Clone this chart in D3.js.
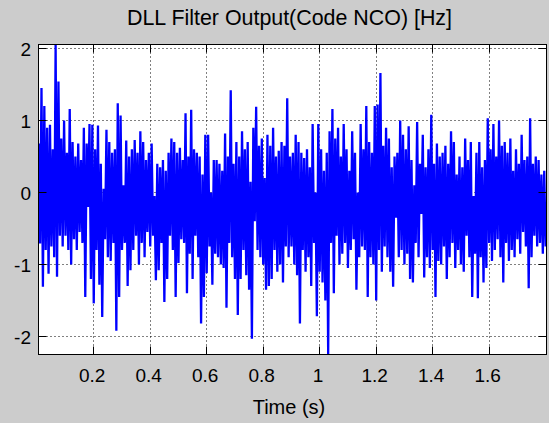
<!DOCTYPE html>
<html>
<head>
<meta charset="utf-8">
<script src="https://cdn.jsdelivr.net/npm/d3@7"></script>
<style>
  body { margin: 0; background: #cccccc; }
  svg text { font-family: "Liberation Sans", Arial, sans-serif; fill: #000; }
</style>
</head>
<body>
<div id="chart"></div>
<script>
// the trace is far denser than the screen, so it is kept as one
// max / min pair per 0.01 s slice
var t0 = 0.007, dt = 0.01;

var hi = [
  0.68, 1.45, 1.2, 0.9, 0.94, 0.6, 2.05, 1.54, 0.75, 1.0,
  0.55, 1.16, 0.7, 0.5, 0.68, 0.45, 0.9, 0.68, 0.95, 0.94,
  0.6, 0.93, 0.4, 0.05, 0.87, 0.7, 0.55, 0.6, 1.24, 1.07,
  0.1, 0.72, 0.5, 0.6, 0.73, 0.55, 0.85, 0.7, 0.45, 0.55,
  0.68, -0.05, 0.4, 0.35, 0.45, 0.3, 0.55, 0.75, 0.7, 0.55,
  0.62, 0.45, 1.1, 0.5, 1.15, 0.6, 0.55, 0.5, 0.25, 0.8,
  0.8, 0.0, 0.45, 0.45, 0.4, 0.3, 0.82, 0.5, 1.42, 0.4,
  0.7, 0.5, 0.85, 0.6, 0.7, 0.15, 0.9, 1.19, 0.65, 0.75,
  0.2, 0.8, 0.65, 0.9, 0.5, 0.58, 0.7, 0.65, 1.31, 0.5,
  0.55, 0.8, 0.7, 0.55, 0.48, 0.6, 0.35, 0.95, 0.0, 0.95,
  0.6, 0.3, 0.55, 0.85, 1.16, 0.75, 0.9, 0.5, 0.95, 0.6,
  0.3, 0.85, 0.55, 0.0, 0.95, 0.6, 1.2, 0.7, 0.55, 1.2,
  1.22, 1.66, 0.65, 0.9, 0.75, 0.35, 0.5, 0.55, 1.0, 0.8,
  0.6, 0.92, 0.45, 0.1, 0.98, 0.4, 0.8, 0.35, 0.6, 1.08,
  0.4, 0.68, 0.5, 0.55, 0.65, 0.4, 0.85, 0.7, 0.25, 0.5,
  0.35, 0.75, 0.45, 0.7, -0.05, 0.55, 0.7, 0.35, 0.45, 1.03,
  0.6, 0.95, 0.5, 1.0, 0.65, 0.7, 0.55, 0.75, 0.3, 0.6,
  0.4, 0.8, 0.45, 0.5, 1.03, 0.4, 0.5, 0.45, 0.25, 0.3
];

var lo = [
  -0.71, -1.31, -0.8, -1.13, -0.75, -0.9, -1.17, -0.6, -0.75, -0.6,
  -0.8, -1.0, -0.65, -0.8, -0.55, -0.7, -1.45, -0.2, -1.2, -1.54,
  -0.8, -1.28, -1.73, -0.65, -0.9, -0.95, -0.7, -1.92, -1.45, -0.8,
  -0.7, -1.3, -1.08, -0.8, -0.6, -1.0, -0.7, -0.9, -0.55, -0.75,
  -0.6, -1.22, -1.08, -0.7, -1.52, -1.2, -0.6, -0.8, -1.45, -0.98,
  -0.65, -0.7, -1.4, -0.85, -1.2, -0.6, -0.9, -1.82, -1.45, -1.12,
  -0.75, -1.28, -0.85, -0.9, -1.0, -1.05, -1.6, -0.7, -0.9, -1.2,
  -1.7, -1.2, -0.8, -1.15, -1.35, -2.03, -0.4, -0.8, -0.9, -1.0,
  -1.35, -1.3, -1.2, -0.8, -1.1, -1.0, -1.25, -0.75, -0.9, -0.75,
  -1.0, -1.15, -1.82, -0.8, -1.1, -0.9, -1.3, -0.7, -1.72, -1.1,
  -1.25, -1.5, -2.25, -0.7, -1.4, -0.6, -1.0, -0.85, -0.7, -1.05,
  -0.8, -0.65, -1.35, -0.9, -0.75, -0.8, -1.45, -0.9, -1.0, -1.5,
  -0.8, -1.1, -0.75, -0.9, -1.1, -1.31, -0.35, -0.9, -0.8, -1.0,
  -0.85, -1.2, -1.25, -0.7, -0.9, -0.3, -1.18, -0.9, -1.05, -0.8,
  -1.45, -0.95, -1.0, -0.75, -1.2, -0.9, -0.7, -1.05, -0.8, -1.0,
  -1.1, -0.6, -0.9, -1.45, -0.85, -1.47, -0.9, -1.25, -1.05, -0.7,
  -0.95, -0.8, -0.65, -0.9, -1.25, -0.7, -0.95, -0.8, -0.9, -0.65,
  -0.85, -0.55, -0.75, -1.33, -0.9, -0.6, -0.75, -0.7, -0.85, -0.75
];

var xTicks = [0.2, 0.4, 0.6, 0.8, 1.0, 1.2, 1.4, 1.6];
var xTickLabels = ["0.2", "0.4", "0.6", "0.8", "1", "1.2", "1.4", "1.6"];
var yTicks = [-2, -1, 0, 1, 2];
var yTickLabels = ["-2", "-1", "0", "1", "2"];

var width = 549, height = 423;
// plot box edges (window.top is taken, so prefix them)
var boxL = 38.5, boxR = 546.5, boxT = 44.5, boxB = 354.5;
var tickLen = 8;

var svg = d3.select("#chart").append("svg")
    .attr("width", width)
    .attr("height", height);

var x = d3.scaleLinear().domain([0.0064, 1.805]).range([boxL, boxR]);
var y = d3.scaleLinear().domain([-2.25, 2.055]).range([boxB, boxT]);

// white plot area
svg.append("rect")
    .attr("x", boxL).attr("y", boxT)
    .attr("width", boxR - boxL).attr("height", boxB - boxT)
    .attr("fill", "#fff");

// dotted grid
var grid = svg.append("g")
    .attr("stroke", "#000")
    .attr("stroke-width", 1)
    .attr("stroke-dasharray", "1,3");
grid.selectAll(".gx").data(xTicks).enter().append("line")
    .attr("x1", d => Math.round(x(d)) + 0.5).attr("x2", d => Math.round(x(d)) + 0.5)
    .attr("y1", boxT).attr("y2", boxB);
grid.selectAll(".gy").data(yTicks).enter().append("line")
    .attr("y1", d => Math.round(y(d)) + 0.5).attr("y2", d => Math.round(y(d)) + 0.5)
    .attr("x1", boxL).attr("x2", boxR);

// the trace: max then min of every slice
var pts = [];
hi.forEach(function(h, i) {
    pts.push([t0 + dt * i, h]);
    pts.push([t0 + dt * i + dt / 2, lo[i]]);
});

svg.append("clipPath").attr("id", "clip")
    .append("rect")
    .attr("x", boxL).attr("y", boxT)
    .attr("width", boxR - boxL).attr("height", boxB - boxT);

var line = d3.line()
    .x(d => x(d[0]))
    .y(d => y(d[1]));

svg.append("path")
    .datum(pts)
    .attr("clip-path", "url(#clip)")
    .attr("fill", "none")
    .attr("stroke", "#0000ff")
    .attr("stroke-width", 2.3)
    .attr("stroke-linejoin", "miter")
    .attr("stroke-miterlimit", 10)
    .attr("d", line);

// box and inward ticks
var axes = svg.append("g").attr("stroke", "#000").attr("stroke-width", 1);
axes.append("rect")
    .attr("x", boxL).attr("y", boxT)
    .attr("width", boxR - boxL).attr("height", boxB - boxT)
    .attr("fill", "none");
xTicks.forEach(function(d) {
    var px = Math.round(x(d)) + 0.5;
    axes.append("line").attr("x1", px).attr("x2", px).attr("y1", boxB).attr("y2", boxB - tickLen);
    axes.append("line").attr("x1", px).attr("x2", px).attr("y1", boxT).attr("y2", boxT + tickLen);
});
yTicks.forEach(function(d) {
    var py = Math.round(y(d)) + 0.5;
    axes.append("line").attr("y1", py).attr("y2", py).attr("x1", boxL).attr("x2", boxL + tickLen);
    axes.append("line").attr("y1", py).attr("y2", py).attr("x1", boxR).attr("x2", boxR - tickLen);
});

// tick labels
svg.selectAll(".xl").data(xTicks).enter().append("text")
    .attr("x", d => x(d) - 1)
    .attr("y", 382)
    .attr("text-anchor", "middle")
    .attr("font-size", 19)
    .text((d, i) => xTickLabels[i]);

svg.selectAll(".yl").data(yTicks).enter().append("text")
    .attr("x", 31)
    .attr("y", d => y(d) + 8)
    .attr("text-anchor", "end")
    .attr("font-size", 19)
    .text((d, i) => yTickLabels[i]);

// labels
svg.append("text")
    .attr("x", 289).attr("y", 414)
    .attr("text-anchor", "middle")
    .attr("font-size", 20)
    .text("Time (s)");

svg.append("text")
    .attr("x", 127).attr("y", 25)
    .attr("font-size", 21.5)
    .attr("textLength", 325)
    .attr("lengthAdjust", "spacingAndGlyphs")
    .text("DLL Filter Output(Code NCO) [Hz]");
</script>
</body>
</html>
